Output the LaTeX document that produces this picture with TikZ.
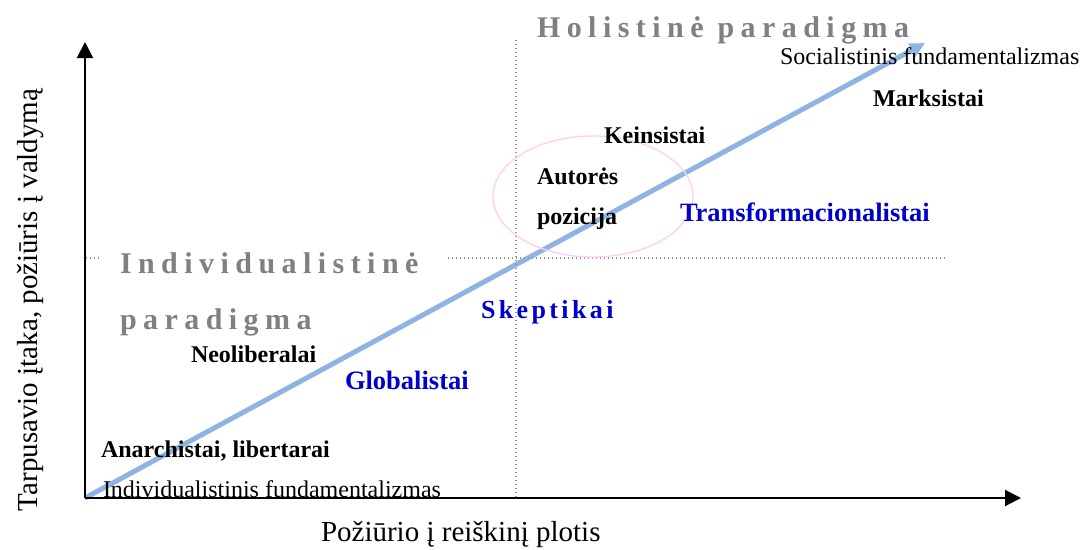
\documentclass[tikz,border=0pt]{standalone}
\usepackage{fontspec}
\setmainfont{Liberation Serif}
\usetikzlibrary{arrows.meta,shapes.geometric}
\definecolor{lineblue}{RGB}{141,180,226}
\definecolor{txtblue}{RGB}{0,0,204}
\definecolor{paragray}{RGB}{128,128,128}
\definecolor{dotgray}{RGB}{150,150,150}
\definecolor{ellpink}{RGB}{255,205,245}
\begin{document}
\begin{tikzpicture}[x=1pt,y=-1pt,
  every node/.style={inner sep=0pt,outer sep=0pt,anchor=base west},
  lbl/.style={font=\fontsize{24}{28}\selectfont},
  lblb/.style={font=\fontsize{24}{28}\selectfont\bfseries},
  blu/.style={font=\fontsize{26.5}{30}\selectfont\bfseries,text=txtblue},
  bluspaced/.style={font=\fontsize{26}{30}\selectfont\bfseries\addfontfeature{LetterSpace=13},text=txtblue},
  para/.style={font=\fontsize{30}{34}\selectfont\bfseries\addfontfeature{LetterSpace=21.5},text=paragray},
  axislbl/.style={font=\fontsize{29}{34}\selectfont},
  axisline/.style={line width=2pt,-{Triangle[length=16pt,width=16pt]}},
  trend/.style={line width=5pt,lineblue,-{Triangle[length=15pt,width=14pt]}},
  dotline/.style={dotgray,line width=1.3pt,dash pattern=on 1.3pt off 2.7pt},
  ell/.style={ellpink,line width=1.3pt}
]
\useasboundingbox (0,0) rectangle (1083,549);

% key points
\coordinate (O) at (85,498);
\coordinate (ytip) at (85,42);
\coordinate (xtip) at (1021,498);
\coordinate (btip) at (925,43);
\coordinate (vtop) at (516,40);
\coordinate (vbot) at (516,498);
\coordinate (hl0) at (86,258);
\coordinate (hl1) at (99,258);
\coordinate (hr0) at (448,258);
\coordinate (hr1) at (947,258);

% trend arrow
\draw[trend] (O) -- (btip);

% dotted quadrant lines
\draw[dotline] (vtop) -- (vbot);
\draw[dotline] (hl0) -- (hl1);
\draw[dotline] (hr0) -- (hr1);

% author's position ellipse
\node[ell,draw,ellipse,anchor=center,minimum width=200pt,minimum height=121pt] (pos) at (593,196.5) {};

% axes
\draw[axisline] (O) -- (ytip);
\draw[axisline] (O) -- (xtip);

% labels
\node[para] (hol) at (537,37) {Holistinė paradigma};
\node[para] (ind1) at (120,273) {Individualistinė};
\node[para] (ind2) at (120,329) {paradigma};

\node[lbl] (soc) at (780,64) {Socialistinis fundamentalizmas};
\node[lblb] (mark) at (873,106) {Marksistai};
\node[lblb] (kein) at (604,143) {Keinsistai};
\node[lblb] (aut1) at (537,184) {Autorės};
\node[lblb] (aut2) at (537,224) {pozicija};
\node[blu] (trans) at (680,221) {Transformacionalistai};
\node[bluspaced] (skep) at (481,318) {Skeptikai};
\node[lblb] (neo) at (191,362) {Neoliberalai};
\node[blu] (glob) at (345,389) {Globalistai};
\node[lblb] (anar) at (101,457) {Anarchistai, libertarai};
\node[lbl] (indf) at (103,497) {Individualistinis fundamentalizmas};

\node[axislbl] (xl) at (321,541) {Požiūrio į reiškinį plotis};
\node[axislbl,rotate=90] (yl) at (37,511) {Tarpusavio įtaka, požiūris į valdymą};
\end{tikzpicture}
\end{document}
